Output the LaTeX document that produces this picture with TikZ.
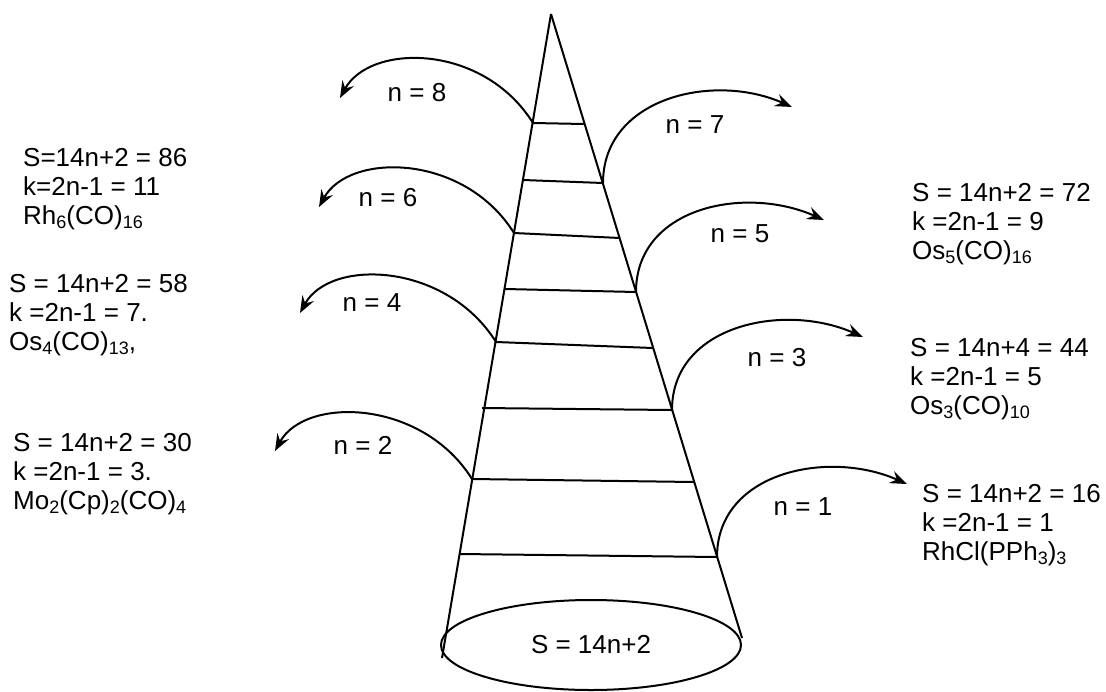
\documentclass[tikz,border=0pt]{standalone}
\usepackage{fontspec}
\setmainfont{Liberation Sans}
\usetikzlibrary{arrows.meta}
\newcommand{\subnum}[1]{\raisebox{-4pt}{\fontsize{18}{18}\selectfont #1}}

\begin{document}
\begin{tikzpicture}[
    x=1pt, y=-1pt,
    % --- Styles ---
    % Style for the cone outline and its rungs
    cone-line/.style={line width=2pt},
    % Style for the curved arrows leaving the rungs
    curve-arrow/.style={
        -{Stealth[length=17pt, width=13pt, inset=6pt]},
        line width=2pt
    },
    % Style for the n labels over the arrows
    n-label/.style={font=\fontsize{26}{29}\selectfont, inner sep=0pt},
    % Style for the text blocks at the sides
    formula/.style={
        font=\fontsize{26}{29}\selectfont,
        align=left,
        anchor=north west,
        inner sep=0pt
    }
]
\useasboundingbox (0,0) rectangle (1106,691);

% --- Cone ---
\coordinate (apex) at (551,14);
\coordinate (bl) at (442,658);
\coordinate (br) at (742,638);
\coordinate (base) at (591,645);
\draw[cone-line] (apex) -- (bl);
\draw[cone-line] (apex) -- (br);
\draw[cone-line] (base) ellipse [x radius=150, y radius=45];
\node[n-label] (base-label) at (base) {S = 14n+2};

% --- Rungs (left end, right end) ---
\foreach \i/\xl/\yl/\xr/\yr in {1/533/123/584/124, 2/523/180/603/183,
    3/514/233/620/238, 4/505/289/636/292, 5/496/342/653/348,
    6/482/408/672/410, 7/472/479/694/482, 8/460/554/717/557} {
    \coordinate (l\i) at (\xl,\yl);
    \coordinate (r\i) at (\xr,\yr);
    \draw[cone-line] (l\i) -- (r\i);
}

% --- Arrow tips ---
\coordinate (tip8) at (340,98);
\coordinate (tip6) at (319,207);
\coordinate (tip4) at (300,313);
\coordinate (tip2) at (275,451);
\coordinate (tip7) at (792,107);
\coordinate (tip5) at (824,220);
\coordinate (tip3) at (863,337);
\coordinate (tip1) at (907,484);

% --- Curved arrows to the left (even n) ---
\foreach \s/\e in {l1/tip8, l3/tip6, l5/tip4, l7/tip2} {
    \draw[curve-arrow] (\s) .. controls +(-50,-80) and +(30,-55) .. (\e);
}

% --- Curved arrows to the right (odd n) ---
\foreach \s/\e in {r2/tip7, r4/tip5, r6/tip3, r8/tip1} {
    \draw[curve-arrow] (\s) .. controls +(0,-85) and +(-79,-35) .. (\e);
}

% --- n labels ---
\node[n-label] (n8) at (417,93) {n = 8};
\node[n-label] (n6) at (388,198) {n = 6};
\node[n-label] (n4) at (372,303) {n = 4};
\node[n-label] (n2) at (363,445) {n = 2};
\node[n-label] (n7) at (695,125) {n = 7};
\node[n-label] (n5) at (740,234) {n = 5};
\node[n-label] (n3) at (777,358) {n = 3};
\node[n-label] (n1) at (803,507) {n = 1};

% --- Cluster data, left side ---
\node[formula] (rh6) at (23,148) {S=14n+2 = 86\\ k=2n-1 = 11\\ Rh\subnum{6}(CO)\subnum{16}};
\node[formula] (os4) at (9,274) {S = 14n+2 = 58\\ k =2n-1 = 7.\\ Os\subnum{4}(CO)\subnum{13},};
\node[formula] (mo2) at (13,433) {S = 14n+2 = 30\\ k =2n-1 = 3.\\ Mo\subnum{2}(Cp)\subnum{2}(CO)\subnum{4}};

% --- Cluster data, right side ---
\node[formula] (os5) at (912,183) {S = 14n+2 = 72\\ k =2n-1 = 9\\ Os\subnum{5}(CO)\subnum{16}};
\node[formula] (os3) at (910,338) {S = 14n+4 = 44\\ k =2n-1 = 5\\ Os\subnum{3}(CO)\subnum{10}};
\node[formula] (rhcl) at (922,484) {S = 14n+2 = 16\\ k =2n-1 = 1\\ RhCl(PPh\subnum{3})\subnum{3}};

\end{tikzpicture}
\end{document}
